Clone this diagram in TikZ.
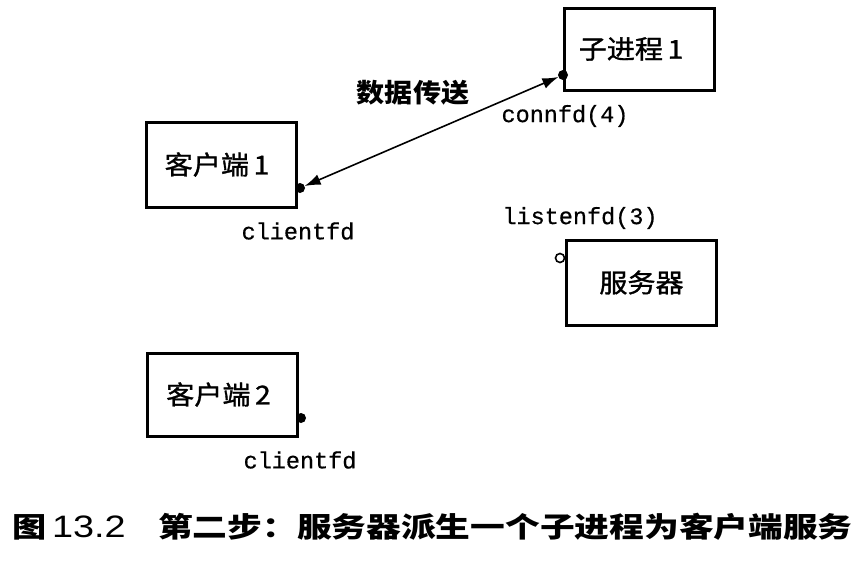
\documentclass[tikz,border=0pt]{standalone}
\usepackage{fontspec}
\usepackage{graphicx}
\setmainfont{Liberation Sans}
\newfontfamily\cjk{Noto Sans CJK SC}
\newfontfamily\cjkb[FakeBold=1.2]{Noto Sans CJK SC}
\newfontfamily\mono[FakeBold=0.6]{Liberation Mono}
\usetikzlibrary{arrows.meta}
\tikzset{
  box/.style={draw, line width=3pt, minimum width=150pt, minimum height=82pt, inner sep=0pt, font=\cjkb\fontsize{26}{26}\selectfont},
  fdlabel/.style={font=\mono\fontsize{23.5}{24}\selectfont, inner sep=0pt},
  captext/.style={font=\cjk\bfseries\fontsize{28}{30}\selectfont, inner sep=0pt, anchor=west},
  dot/.style={circle, fill, inner sep=0pt, minimum size=10pt},
  odot/.style={circle, draw, line width=1.6pt, inner sep=0pt, minimum size=9pt},
  link/.style={line width=1.6pt, {Latex[length=16pt,width=11pt]}-{Latex[length=16pt,width=11pt]}, shorten <=5pt, shorten >=5pt}
}
\begin{document}
\begin{tikzpicture}[x=1pt,y=-1pt]
\useasboundingbox (0,0) rectangle (866,562);
\node[box] (child) at (639,49) {\scalebox{1.08}[1]{子进程\,1}\hspace*{16pt}};
\node[box, minimum height=85pt] (client1) at (221,164.5) {\scalebox{1.08}[1]{客户端\,1}\hspace*{8pt}};
\node[box, minimum height=85pt] (server) at (641.5,282.5) {\raisebox{-5pt}{\scalebox{1.08}[1]{服务器}}};
\node[box, minimum height=83pt] (client2) at (222.5,394.5) {\scalebox{1.08}[1]{客户端\,2}\hspace*{8pt}};
\node[dot] (d1) at (300,188) {};
\node[dot] (d2) at (563,75) {};
\node[dot] (d3) at (301,418) {};
\node[odot] (o1) at (560,258) {};
\draw[link] (d1.center) -- (d2.center);
\node[font=\cjk\bfseries\fontsize{26}{26}\selectfont, inner sep=0pt] (data) at (413,93) {\scalebox{1.08}[1]{数据传送}};
\node[fdlabel] (l1) at (565,116) {connfd(4)};
\node[fdlabel] (l2) at (298,231) {clientfd};
\node[fdlabel] (l3) at (580,218) {listenfd(3)};
\node[fdlabel] (l4) at (300,460) {clientfd};
\node[captext] (cap1) at (12,527) {\scalebox{1.22}[1]{图\,{\rmfamily\mdseries\fontsize{31}{31}\selectfont 13.2}}};
\node[captext] (cap2) at (158,527) {\scalebox{1.24}[1]{第二步：服务器派生一个子进程为客户端服务}};
\end{tikzpicture}
\end{document}
